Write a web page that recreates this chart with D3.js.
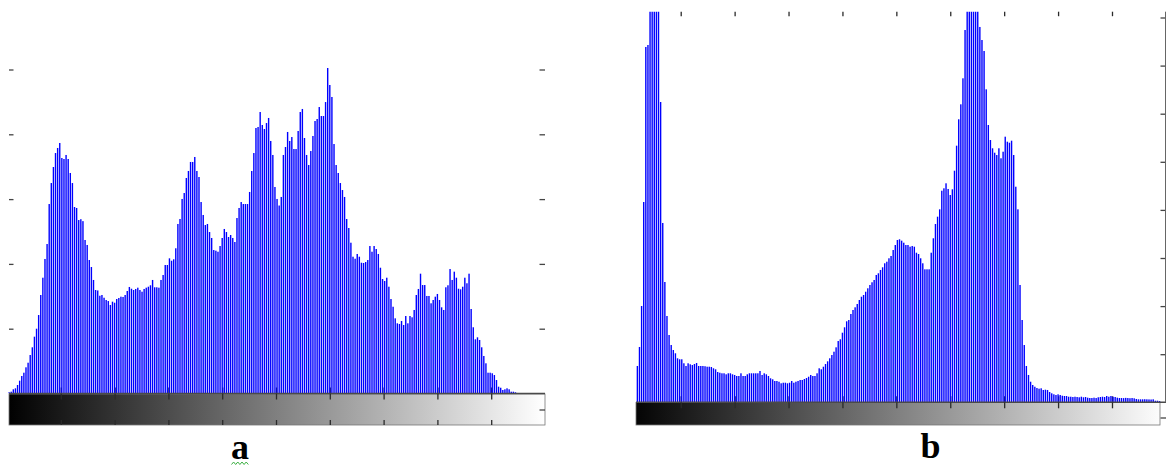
<!DOCTYPE html>
<html>
<head>
<meta charset="utf-8">
<script src="https://cdn.jsdelivr.net/npm/d3@7"></script>
<style>
  html, body { margin: 0; padding: 0; background: #fff; }
  svg { display: block; }
</style>
</head>
<body>
<div id="chart"></div>
<script>
// grey-level histograms, 256 bins each (counts)
const histA = [
  0, 19, 28, 65, 80, 131, 198, 270, 321, 404, 475, 594, 713, 877, 1000, 1211,
  1520, 1787, 2076, 2307, 2924, 3248, 3495, 3711, 3789, 3866, 3634, 3619, 3681, 3619, 3403, 3248,
  2878, 2863, 2677, 2690, 2660, 2369, 2292, 2060, 1952, 1752, 1597, 1590, 1509, 1520, 1478, 1443,
  1427, 1366, 1417, 1401, 1458, 1474, 1494, 1490, 1520, 1582, 1644, 1617, 1597, 1613, 1633, 1597,
  1571, 1613, 1633, 1648, 1670, 1752, 1639, 1639, 1633, 1752, 1829, 1983, 1983, 2086, 2049, 2071,
  2241, 2616, 2693, 3002, 3094, 3326, 3434, 3573, 3573, 3650, 3434, 3341, 2955, 2755, 2600, 2616,
  2492, 2400, 2214, 2204, 2188, 2276, 2400, 2539, 2492, 2415, 2446, 2400, 2338, 2708, 2863, 2955,
  2924, 2924, 2924, 3110, 3434, 3711, 4097, 4113, 4344, 4144, 4082, 4174, 4252, 3897, 3681, 3187,
  3002, 2901, 3033, 3681, 3804, 4036, 3897, 3958, 3773, 3773, 4051, 4344, 4391, 3943, 3681, 3526,
  3742, 3974, 4205, 4236, 4421, 4282, 4282, 4498, 5023, 4761, 4576, 3850, 3526, 3403, 3248, 3140,
  3033, 2693, 2554, 2327, 2111, 2080, 2153, 2111, 2018, 2014, 2029, 2060, 2276, 2188, 2276, 2230,
  2153, 1941, 1767, 1736, 1787, 1648, 1458, 1339, 1160, 1083, 1073, 1119, 1057, 1196, 1083, 1196,
  1176, 1289, 1520, 1613, 1849, 1674, 1674, 1505, 1505, 1392, 1443, 1494, 1536, 1443, 1330, 1289,
  1639, 1670, 1921, 1752, 1880, 1787, 1617, 1608, 1648, 1787, 1701, 1849, 1304, 1022, 836, 867,
  826, 713, 579, 466, 321, 321, 312, 285, 208, 105, 89, 54, 65, 80, 65, 28,
  28, 19, 8, 0, 0, 0, 0, 0, 0, 0, 0, 0, 0, 0, 0, 0
];

const histB = [
  0, 0, 0, 0, 0, 755, 1150, 2002, 4164, 7387, 7428, 9800, 12500, 14000, 12800, 9900,
  6243, 3728, 2501, 1794, 1399, 1191, 1087, 1019, 915, 894, 894, 811, 755, 811, 790, 775,
  796, 817, 755, 755, 755, 750, 740, 740, 734, 707, 686, 630, 615, 603, 603, 582,
  603, 603, 582, 568, 547, 547, 603, 547, 547, 582, 603, 603, 603, 603, 603, 651,
  568, 603, 582, 547, 499, 478, 443, 443, 428, 395, 407, 407, 395, 407, 443, 407,
  428, 443, 464, 464, 484, 505, 532, 568, 547, 547, 603, 707, 686, 740, 796, 852,
  915, 983, 1052, 1143, 1274, 1310, 1447, 1559, 1684, 1711, 1836, 1919, 1975, 2044, 2127, 2195,
  2231, 2299, 2370, 2439, 2495, 2543, 2647, 2682, 2751, 2807, 2890, 2923, 2994, 3042, 3166, 3270,
  3374, 3389, 3360, 3318, 3270, 3270, 3235, 3250, 3235, 3110, 3083, 2994, 2890, 2765, 2765, 2765,
  3110, 3410, 3707, 3859, 4012, 4399, 4449, 4553, 4435, 4310, 4428, 4815, 5335, 5884, 6195, 6736,
  7740, 9000, 11000, 12500, 13000, 11500, 9000, 7803, 7532, 7304, 6507, 5765, 5453, 5281, 5189, 5141,
  5281, 5073, 5210, 5522, 5418, 5397, 5439, 5141, 4482, 4012, 2439, 1711, 1191, 755, 568, 428,
  360, 324, 297, 283, 291, 256, 262, 256, 214, 187, 166, 152, 166, 152, 137, 131,
  131, 116, 116, 110, 116, 110, 104, 116, 104, 110, 96, 89, 89, 96, 89, 104,
  110, 116, 110, 131, 116, 131, 116, 110, 96, 89, 89, 87, 92, 89, 85, 89,
  83, 69, 62, 62, 62, 64, 62, 60, 58, 62, 33, 33, 27, 0, 0, 0
];

// tick positions (in bins / counts); the picture shows no tick labels
const xTickBins = [25.5, 51, 76.5, 102, 127.5, 153, 178.5, 204, 229.5];
const yTicksA = [1000, 2000, 3000, 4000, 5000];
const yTicksB = [1000, 2000, 3000, 4000, 5000, 6000, 7000, 8000];
const panelNames = ['a', 'b'];

const W = 1166, H = 469;
const barColor = '#0000ff';
const tickColor = '#2a2a2a';

const svg = d3.select('#chart').append('svg')
  .attr('width', W)
  .attr('height', H)
  .attr('viewBox', `0 0 ${W} ${H}`);

const defs = svg.append('defs');

const panels = [
  {
    data: histA, name: panelNames[0], yTicks: yTicksA,
    xRange: [7, 545], yDomain: [0, 6000], yRange: [393.5, 4.7], top: 0,
    grad: { x0: 9, x1: 545, y0: 394, y1: 425 },
    lineX: [9, 545],
    leftTicks: 9, rightTicks: 545, extraRight: 410,
    topTicks: false, bottomTicks: true, rightLine: false,
    label: { x: 240, y: 459 }, squiggle: true
  },
  {
    data: histB, name: panelNames[1], yTicks: yTicksB,
    xRange: [626.8, 1165.9], yDomain: [0, 8000], yRange: [402.3, 17.5], top: 11.7,
    grad: { x0: 636, x1: 1160, y0: 402.5, y1: 425 },
    lineX: [636, 1166],
    leftTicks: null, rightTicks: 1166, extraRight: 418,
    topTicks: true, bottomTicks: false, rightLine: true,
    label: { x: 930.5, y: 458 }, squiggle: false
  }
];

panels.forEach((p, k) => {
  const x = d3.scaleLinear().domain([0, 255]).range(p.xRange);
  const y = d3.scaleLinear().domain(p.yDomain).range(p.yRange);
  const base = p.yRange[0];
  const g = svg.append('g');

  // black-to-white ramp, spread over the bin scale
  const lg = defs.append('linearGradient')
    .attr('id', 'ramp' + k)
    .attr('gradientUnits', 'userSpaceOnUse')
    .attr('x1', x(0)).attr('x2', x(255))
    .attr('y1', 0).attr('y2', 0);
  lg.append('stop').attr('offset', '0%').attr('stop-color', '#000');
  lg.append('stop').attr('offset', '100%').attr('stop-color', '#fff');

  defs.append('clipPath').attr('id', 'bclip' + k)
    .append('rect')
    .attr('x', p.xRange[0] - 5).attr('y', p.top)
    .attr('width', p.xRange[1] - p.xRange[0] + 10).attr('height', base - p.top);

  g.append('rect')
    .attr('x', p.grad.x0).attr('y', p.grad.y0)
    .attr('width', p.grad.x1 - p.grad.x0).attr('height', p.grad.y1 - p.grad.y0)
    .attr('fill', `url(#ramp${k})`)
    .attr('stroke', '#777').attr('stroke-width', 0.8);

  // inward ticks on the baseline (drawn under the bars)
  const upTicks = g.append('g')
    .attr('transform', `translate(0,${base})`)
    .call(d3.axisBottom(x).tickValues(xTickBins).tickSize(-6).tickFormat(''));
  upTicks.select('.domain').remove();
  upTicks.selectAll('line').attr('stroke', tickColor).attr('stroke-width', 1.3);

  // histogram bars
  g.append('g')
    .attr('clip-path', `url(#bclip${k})`)
    .selectAll('rect')
    .data(p.data)
    .enter().append('rect')
    .attr('x', (d, i) => x(i) - 0.7)
    .attr('width', 1.4)
    .attr('y', d => y(d))
    .attr('height', d => base - y(d))
    .attr('fill', barColor);

  // baseline
  g.append('line')
    .attr('x1', p.lineX[0]).attr('x2', p.lineX[1])
    .attr('y1', base).attr('y2', base)
    .attr('stroke', '#4a4a4a').attr('stroke-width', 1.5);

  // ticks below baseline, on the ramp
  const downTicks = g.append('g')
    .attr('transform', `translate(0,${base})`)
    .call(d3.axisBottom(x).tickValues(xTickBins).tickSize(6).tickFormat(''));
  downTicks.select('.domain').remove();
  downTicks.selectAll('line').attr('stroke', tickColor).attr('stroke-width', 1.3);

  if (p.bottomTicks) {
    const bt = g.append('g')
      .attr('transform', `translate(0,${p.grad.y1})`)
      .call(d3.axisBottom(x).tickValues(xTickBins).tickSize(-5).tickFormat(''));
    bt.select('.domain').remove();
    bt.selectAll('line').attr('stroke', tickColor).attr('stroke-width', 1.3);
  }

  if (p.topTicks) {
    const tt = g.append('g')
      .attr('transform', `translate(0,${p.top})`)
      .call(d3.axisTop(x).tickValues(xTickBins).tickSize(-4.5).tickFormat(''));
    tt.select('.domain').remove();
    tt.selectAll('line').attr('stroke', tickColor).attr('stroke-width', 1.3);
  }

  if (p.leftTicks !== null) {
    const lt = g.append('g')
      .attr('transform', `translate(${p.leftTicks},0)`)
      .call(d3.axisLeft(y).tickValues(p.yTicks).tickSize(-4.5).tickFormat(''));
    lt.select('.domain').remove();
    lt.selectAll('line').attr('stroke', '#444').attr('stroke-width', 1.3);
  }

  const rt = g.append('g')
    .attr('transform', `translate(${p.rightTicks},0)`)
    .call(d3.axisRight(y).tickValues(p.yTicks).tickSize(-5.5).tickFormat(''));
  rt.select('.domain').remove();
  rt.selectAll('line').attr('stroke', '#444').attr('stroke-width', 1.3);
  g.append('line')
    .attr('x1', p.rightTicks - 5.5).attr('x2', p.rightTicks)
    .attr('y1', p.extraRight).attr('y2', p.extraRight)
    .attr('stroke', '#444').attr('stroke-width', 1.3);

  if (p.rightLine) {
    g.append('line')
      .attr('x1', p.rightTicks - 0.5).attr('x2', p.rightTicks - 0.5)
      .attr('y1', p.top).attr('y2', base)
      .attr('stroke', '#666').attr('stroke-width', 1);
  }

  // panel letter
  g.append('text')
    .attr('x', p.label.x).attr('y', p.label.y)
    .attr('text-anchor', 'middle')
    .style('font-family', '"Liberation Serif", "DejaVu Serif", serif')
    .style('font-weight', 'bold')
    .style('font-size', '36px')
    .attr('fill', '#000')
    .text(p.name);

  if (p.squiggle) {
    const pts = d3.range(0, 9).map(j => [p.label.x - 8.5 + j * 2.1, p.label.y + (j % 2 ? 3 : 5.5)]);
    g.append('path')
      .attr('d', d3.line()(pts))
      .attr('fill', 'none')
      .attr('stroke', '#3cb043')
      .attr('stroke-width', 1);
  }
});
</script>
</body>
</html>
